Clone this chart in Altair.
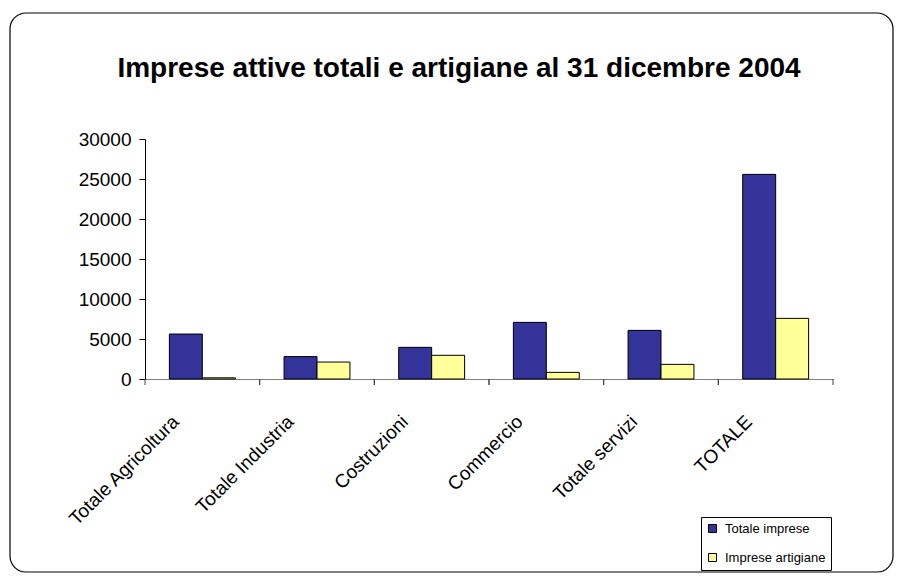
import altair as alt
import pandas as pd

categories = ["Totale Agricoltura", "Totale Industria", "Costruzioni", "Commercio", "Totale servizi", "TOTALE"]
totale_imprese = [5620, 2800, 3960, 7080, 6080, 25580]
imprese_artigiane = [150, 2120, 2960, 830, 1830, 7580]
series = ["Totale imprese", "Imprese artigiane"]
colors = ["#333399", "#FFFF99"]
title_text = "Imprese attive totali e artigiane al 31 dicembre 2004"

rows = []
for c, a, b in zip(categories, totale_imprese, imprese_artigiane):
    rows.append({"cat": c, "serie": series[0], "val": a})
    rows.append({"cat": c, "serie": series[1], "val": b})
df = pd.DataFrame(rows)

FONT = "Liberation Sans"
W, H = 688, 240

xscale = alt.Scale(domain=categories, paddingInner=0, paddingOuter=0)

bars = alt.Chart(df).mark_bar(stroke="black", strokeWidth=1).encode(
    x=alt.X("cat:N", scale=xscale, sort=categories, title=None,
            axis=alt.Axis(labelAngle=-45, labelFont=FONT, labelFontSize=19, labelColor="black",
                          ticks=False, domainColor="#808080", labelPadding=33, labelOffset=-33)),
    xOffset=alt.XOffset("serie:N", sort=series,
                        scale=alt.Scale(domain=series, paddingInner=0, paddingOuter=0.74)),
    y=alt.Y("val:Q", scale=alt.Scale(domain=[0, 30000], nice=False), title=None,
            axis=alt.Axis(values=[0, 5000, 10000, 15000, 20000, 25000, 30000], format="d",
                          grid=False, labelFont=FONT, labelFontSize=19, labelColor="black",
                          tickColor="black", domainColor="black", tickSize=6, labelPadding=8)),
    color=alt.Color("serie:N", sort=series, scale=alt.Scale(domain=series, range=colors),
                    legend=alt.Legend(title=None, orient="none", legendX=556, legendY=378,
                                      labelFont=FONT, labelFontSize=13, labelColor="black",
                                      symbolType="square", symbolSize=64, symbolStrokeColor="black",
                                      symbolStrokeWidth=1, strokeColor="black", padding=5,
                                      rowPadding=15, labelOffset=6, fillColor="white")),
)

tick_df = pd.DataFrame({"cat": categories})
ticks_left = alt.Chart(tick_df).mark_rule(color="#404040").encode(
    x=alt.X("cat:N", scale=xscale, sort=categories, bandPosition=0),
    y=alt.value(H), y2=alt.value(H + 6))
ticks_right = alt.Chart(tick_df).mark_rule(color="#404040").encode(
    x=alt.X("cat:N", scale=xscale, sort=categories, bandPosition=1),
    y=alt.value(H), y2=alt.value(H + 6))

one = pd.DataFrame({"t": [title_text]})
title = alt.Chart(one).mark_text(font=FONT, fontSize=28, fontWeight="bold", color="black",
                                 baseline="alphabetic", align="center").encode(
    text="t:N", x=alt.value(314), y=alt.value(-62))

border = alt.Chart(pd.DataFrame({"a": [0]})).mark_rect(
    fill=None, fillOpacity=0, stroke="black", strokeWidth=1.2, cornerRadius=16, clip=False).encode(
    x=alt.value(-135), x2=alt.value(748), y=alt.value(-126), y2=alt.value(433))

chart = alt.layer(border, bars, ticks_left, ticks_right, title).properties(
    width=W, height=H,
    autosize=alt.AutoSizeParams(type="none"),
    padding={"left": 145, "top": 139, "right": 70, "bottom": 202},
    background="white",
).configure_view(stroke=None)

chart.save("out.html", embed_options={"renderer": "svg", "actions": False})
